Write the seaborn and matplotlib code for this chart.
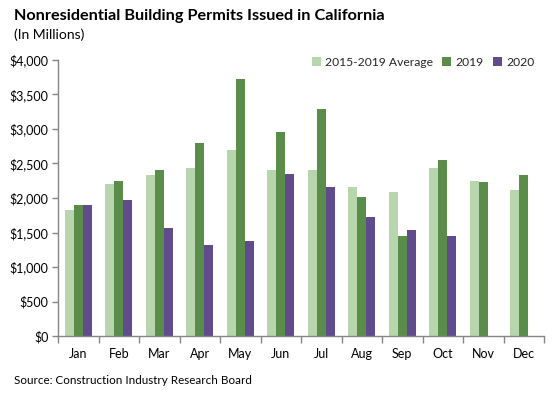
import matplotlib
matplotlib.use("Agg")
import matplotlib.pyplot as plt
import seaborn as sns
import pandas as pd
import numpy as np
from matplotlib.ticker import FuncFormatter, FixedLocator
from matplotlib.patches import Patch

months = ["Jan", "Feb", "Mar", "Apr", "May", "Jun", "Jul", "Aug", "Sep", "Oct", "Nov", "Dec"]
avg_2015_2019 = [1830, 2200, 2340, 2430, 2690, 2410, 2400, 2165, 2080, 2430, 2240, 2110]
y2019 = [1900, 2250, 2410, 2790, 3720, 2950, 3285, 2020, 1455, 2545, 2225, 2340]
y2020 = [1900, 1975, 1570, 1320, 1380, 2355, 2165, 1730, 1540, 1455, np.nan, np.nan]
series = ["2015-2019 Average", "2019", "2020"]
colors = ["#B7D6AD", "#5A8C4A", "#604C8C"]

df = pd.DataFrame({
    "month": months * 3,
    "series": [series[0]] * 12 + [series[1]] * 12 + [series[2]] * 12,
    "value": avg_2015_2019 + y2019 + y2020,
})

sns.set_theme(style="white")
plt.rcParams["font.family"] = ["Lato", "DejaVu Sans"]

fig = plt.figure(figsize=(5.59, 3.94), dpi=100)
ax = fig.add_axes([58 / 559, 58 / 394, (544 - 58) / 559, (336 - 60) / 394])

sns.barplot(data=df, x="month", y="value", hue="series", order=months,
            hue_order=series, palette=colors, width=0.667, gap=0,
            saturation=1, ax=ax, legend=False, edgecolor="none", linewidth=0)

ax.set_xlim(-0.5, 11.5)
ax.set_ylim(0, 4000)
ax.set_yticks(range(0, 4001, 500))
ax.yaxis.set_major_formatter(FuncFormatter(lambda v, p: f"${int(v):,}"))
ax.set_xlabel("")
ax.set_ylabel("")

for s in ["top", "right"]:
    ax.spines[s].set_visible(False)
for s in ["left", "bottom"]:
    ax.spines[s].set_color("#868686")
    ax.spines[s].set_linewidth(1.0)

ax.tick_params(axis="y", which="major", length=4, width=1, color="#868686",
               direction="out", left=True, labelsize=9, labelcolor="#000000", pad=3)
ax.tick_params(axis="x", which="major", length=0, labelsize=9, labelcolor="#000000", pad=9)
ax.xaxis.set_minor_locator(FixedLocator(np.arange(-0.5, 12, 1)))
ax.tick_params(axis="x", which="minor", length=5, width=1, color="#868686",
               direction="out", bottom=True)

handles = [Patch(facecolor=c, edgecolor="none") for c in colors]
leg = fig.legend(handles, series, loc="center left", bbox_to_anchor=(312 / 559, 1 - 62 / 394),
                 ncol=3, frameon=False, fontsize=8.7, handlelength=0.75, handleheight=0.75,
                 handletextpad=0.35, columnspacing=0.75, borderaxespad=0, borderpad=0)

fig.text(14 / 559, 1 - 16 / 394, "Nonresidential Building Permits Issued in California",
         fontsize=11.7, fontweight="bold", va="center", ha="left", color="#000000")
fig.text(14 / 559, 1 - 35 / 394, "(In Millions)", fontsize=10, va="center", ha="left",
         color="#000000")
fig.text(14 / 559, 1 - 381 / 394, "Source: Construction Industry Research Board",
         fontsize=8.4, va="center", ha="left", color="#000000")

fig.savefig("out.png", dpi=100)
